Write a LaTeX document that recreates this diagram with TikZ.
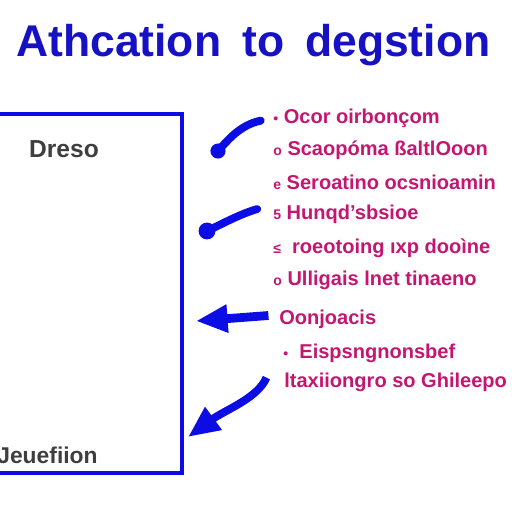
\documentclass[tikz,border=0pt]{standalone}
\usepackage{fontspec}
\setmainfont{Liberation Sans}
\usetikzlibrary{arrows.meta}
\definecolor{titleblue}{RGB}{22,18,196}
\definecolor{boxblue}{RGB}{12,12,228}
\definecolor{notepink}{RGB}{196,22,112}
\definecolor{labelgray}{RGB}{62,62,62}
\tikzset{
  note/.style={font=\fontsize{11.4}{13}\selectfont\bfseries, notepink, anchor=west, inner sep=0pt},
  brush/.style={line width=4.5pt, boxblue, line cap=round},
  bighead/.style={-{Triangle[length=18pt,width=15pt]}}
}

\begin{document}
\begin{tikzpicture}[x=0.02cm,y=-0.02cm]
    \useasboundingbox (0,0) rectangle (512,512);

    % Title
    \node[font=\fontsize{25.3}{30}\selectfont\bfseries, titleblue, anchor=base west, inner sep=0pt] (title) at (16,56)
        {Athcation\hspace{0.42cm}to\hspace{0.42cm}degstion};

    % Left box
    \draw[line width=2.8pt, boxblue] (-10,114) -- (182,114) -- (182,473) -- (-10,473);
    \node[font=\fontsize{14}{16}\selectfont\bfseries, labelgray] (boxtop) at (64,149) {Dreso};
    \node[font=\fontsize{13}{15}\selectfont\bfseries, labelgray, anchor=west, inner sep=0pt] (boxbot) at (-3,455) {Jeuefiion};

    % Notes
    \node[note] (l1) at (273,118) {{\footnotesize\textbullet}\ Ocor oirbonçom};
    \node[note] (l2) at (273,150) {{\footnotesize o}\ Scaopóma ßaltlOoon};
    \node[note] (l3) at (273,182) {{\footnotesize e}\ Seroatino ocsnioamin};
    \node[note] (l4) at (273,214) {{\footnotesize 5}\ Hunqd'sbsioe};
    \node[note] (l5) at (273,248) {{\footnotesize ≤}\ \ roeotoing ıxp dooìne};
    \node[note] (l6) at (273,280) {{\footnotesize o}\ Ulligais lnet tinaeno};
    \node[note] (l7) at (279,319) {Oonjoacis};
    \node[note] (l8) at (283,353) {{\footnotesize\textbullet}\ \ Eispsngnonsbef};
    \node[note] (l9) at (284,382) {ltaxiiongro so Ghileepo};

    % Arrow ends at the box
    \coordinate (a1) at (218,151);
    \coordinate (a2) at (207,231);
    \coordinate (a3) at (196,321);
    \coordinate (a4) at (188,437);

    % Arrows
    \draw[brush] ([xshift=-7pt,yshift=-1.5pt]l1.west) .. controls (240,125) and (228,140) .. (a1);
    \fill[boxblue] (a1) circle (4.3pt);
    \draw[brush] ([xshift=-9pt,yshift=2.8pt]l4.west) .. controls (240,214) and (222,224) .. (a2);
    \fill[boxblue] (a2) circle (4.8pt);
    \draw[brush, line width=5pt, line cap=butt, bighead] ([xshift=-6pt,yshift=2pt]l7.west) -- (a3);
    \draw[brush, line cap=butt, bighead] ([xshift=-10pt,yshift=2.5pt]l9.west) .. controls (258,398) and (225,410) .. (a4);
\end{tikzpicture}
\end{document}
